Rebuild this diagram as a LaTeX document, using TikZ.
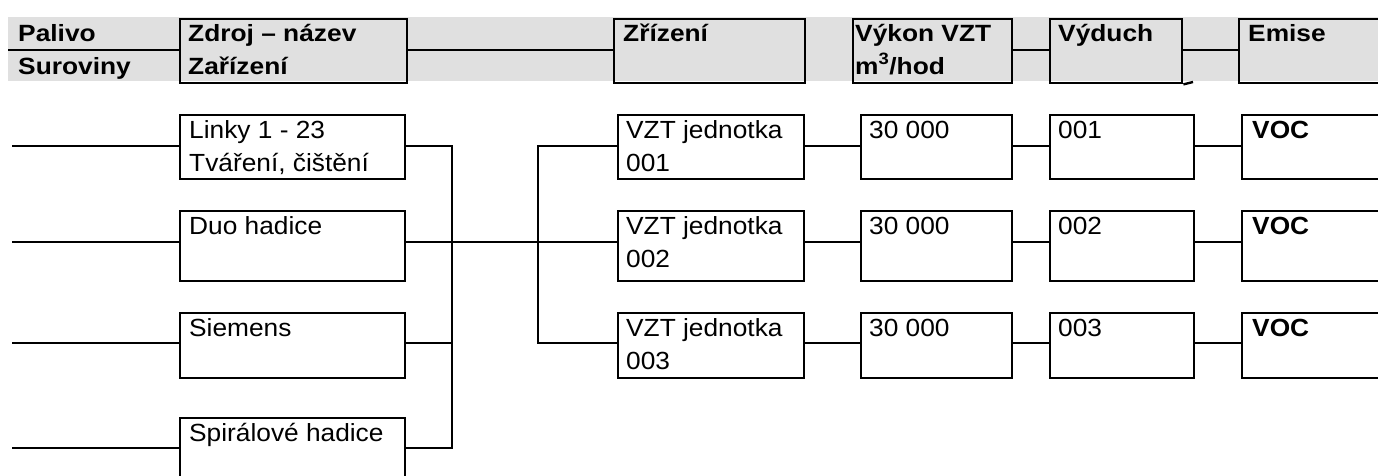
\documentclass[tikz,border=0pt]{standalone}
\usepackage{fontspec}
\setmainfont{Liberation Sans}
\newfontfamily\bodyf[FakeStretch=1.06]{Liberation Sans}
\newfontfamily\headf[FakeStretch=1.12]{Liberation Sans}
\definecolor{hdrgray}{RGB}{224,224,224}
\begin{document}
\begin{tikzpicture}[x=1pt,y=-1pt,
  box/.style={draw, line width=2.4pt, inner sep=0pt, anchor=north west},
  txt/.style={anchor=base west, inner sep=0pt, font=\bodyf\fontsize{24.8}{31}\selectfont},
  htxt/.style={anchor=base west, inner sep=0pt, font=\headf\fontsize{23.5}{30}\selectfont\bfseries},
  conn/.style={line width=2.4pt}]
\useasboundingbox (0,0) rectangle (1378,475);
\clip (0,0) rectangle (1378,475);
% header band
\fill[hdrgray] (8,17) rectangle (1378,81);
\node[box, minimum width=227pt, minimum height=64pt] (hZd) at (179,18) {};
\node[box, minimum width=191pt, minimum height=64pt] (hZr) at (613,18) {};
\node[box, minimum width=159pt, minimum height=64pt] (hVk) at (852,18) {};
\node[box, minimum width=132pt, minimum height=64pt] (hVd) at (1049,18) {};
\node[box, minimum width=170pt, minimum height=64pt] (hEm) at (1238,18) {};
\coordinate (hL) at (8,50);
\coordinate (hVdx) at (1193,82);
\draw[conn] (hL) -- (hL -| hZd.west);
\draw[conn] (hL -| hZd.east) -- (hL -| hZr.west);
\draw[conn] (hL -| hVk.east) -- (hL -| hVd.west);
\draw[conn] (hL -| hVd.east) -- (hL -| hEm.west);
\draw[conn] (hVd.south east) -- (hVdx);
% header texts
\node[htxt] (tPal) at (18,41) {Palivo};
\node[htxt] (tSur) at (18,74) {Suroviny};
\node[htxt] (tZd1) at ([shift={(9,23)}]hZd.north west) {Zdroj – název};
\node[htxt] (tZd2) at ([shift={(9,56)}]hZd.north west) {Zařízení};
\node[htxt] (tZr) at ([shift={(10,23)}]hZr.north west) {Zřízení};
\node[htxt] (tVk1) at ([shift={(3,23)}]hVk.north west) {Výkon VZT};
\node[htxt] (tVk2) at ([shift={(3,56)}]hVk.north west) {m\textsuperscript{3}/hod};
\node[htxt] (tVd) at ([shift={(9,23)}]hVd.north west) {Výduch};
\node[htxt] (tEm) at ([shift={(10,23)}]hEm.north west) {Emise};
% source boxes
\node[box, minimum width=225pt, minimum height=64pt] (S1) at (179,114) {};
\node[box, minimum width=225pt, minimum height=70pt] (S2) at (179,210) {};
\node[box, minimum width=225pt, minimum height=65pt] (S3) at (179,312) {};
\node[box, minimum width=225pt, minimum height=80pt] (S4) at (179,417) {};
\node[txt] (tS1a) at ([shift={(10,24)}]S1.north west) {Linky 1 - 23};
\node[txt] (tS1b) at ([shift={(10,57)}]S1.north west) {Tváření, čištění};
\node[txt] (tS2) at ([shift={(10,24)}]S2.north west) {Duo hadice};
\node[txt] (tS3) at ([shift={(10,24)}]S3.north west) {Siemens};
\node[txt] (tS4) at ([shift={(10,24)}]S4.north west) {Spirálové hadice};
% rows
\foreach \i/\t/\h in {1/114/64, 2/210/70, 3/312/65}{
  \node[box, minimum width=186pt, minimum height=\h pt] (Z\i) at (617,\t) {};
  \node[box, minimum width=151pt, minimum height=\h pt] (P\i) at (860,\t) {};
  \node[box, minimum width=144pt, minimum height=\h pt] (D\i) at (1049,\t) {};
  \node[box, minimum width=170pt, minimum height=\h pt] (E\i) at (1241,\t) {};
  \node[txt] (tZ\i a) at ([shift={(9,24)}]Z\i.north west) {VZT jednotka};
  \node[txt] (tZ\i b) at ([shift={(9,57)}]Z\i.north west) {00\i};
  \node[txt] (tP\i) at ([shift={(9,24)}]P\i.north west) {30 000};
  \node[txt] (tD\i) at ([shift={(9,24)}]D\i.north west) {00\i};
  \node[txt, font=\bodyf\fontsize{24.8}{31}\selectfont\bfseries] (tE\i) at ([shift={(11,24)}]E\i.north west) {VOC};
}
% connectors
\coordinate (in1) at (12,146);
\coordinate (in2) at (12,242);
\coordinate (in3) at (12,343);
\coordinate (in4) at (12,448);
\coordinate (bus1) at (452,0);
\coordinate (bus2) at (538,0);
\foreach \i in {1,2,3,4}{
  \draw[conn] (in\i) -- (in\i -| S\i.west);
}
\draw[conn] (in1 -| S1.east) -- (in1 -| bus1) -- (in4 -| bus1) -- (in4 -| S4.east);
\draw[conn] (in2 -| S2.east) -- (in2 -| bus1);
\draw[conn] (in3 -| S3.east) -- (in3 -| bus1);
\draw[conn] (in2 -| bus1) -- (in2 -| bus2);
\draw[conn] (in1 -| Z1.west) -- (in1 -| bus2) -- (in3 -| bus2) -- (in3 -| Z3.west);
\draw[conn] (in2 -| bus2) -- (in2 -| Z2.west);
\foreach \i in {1,2,3}{
  \draw[conn] (in\i -| Z\i.east) -- (in\i -| P\i.west);
  \draw[conn] (in\i -| P\i.east) -- (in\i -| D\i.west);
  \draw[conn] (in\i -| D\i.east) -- (in\i -| E\i.west);
}
\end{tikzpicture}
\end{document}
